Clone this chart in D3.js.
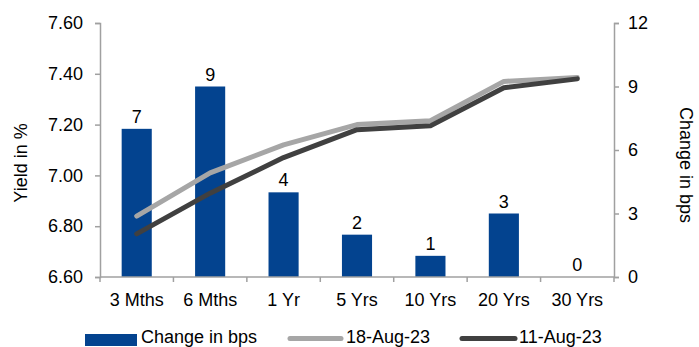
<!DOCTYPE html>
<html>
<head>
<meta charset="utf-8">
<script src="https://cdn.jsdelivr.net/npm/d3@7"></script>
<style>
  html, body { margin: 0; padding: 0; background: #fff; }
  svg text { font-family: "Liberation Sans", Arial, sans-serif; fill: #000; }
</style>
</head>
<body>
<svg id="chart" width="699" height="347"></svg>
<script>
// Tenors along the curve
const tenors = ["3 Mths", "6 Mths", "1 Yr", "5 Yrs", "10 Yrs", "20 Yrs", "30 Yrs"];
// Weekly change in basis points (bars, right axis)
const changeBps = [7, 9, 4, 2, 1, 3, 0];
// Yields in % (lines, left axis)
const yield18Aug = [6.84, 7.01, 7.12, 7.20, 7.215, 7.37, 7.385];
const yield11Aug = [6.77, 6.93, 7.07, 7.18, 7.195, 7.345, 7.38];
// Axis ticks
const yieldTicks = [6.60, 6.80, 7.00, 7.20, 7.40, 7.60];
const bpsTicks = [0, 3, 6, 9, 12];

const svg = d3.select("#chart");
const plotL = 100, plotR = 614, plotT = 23, plotB = 277;
const axisColor = "#a0a0a0";
const barColor = "#03438f";
const lightColor = "#a6a6a6";
const darkColor = "#404040";
const fs = 18;

const xSlot = d3.scaleBand().domain(tenors).range([plotL, plotR]);
const yYield = d3.scaleLinear().domain([6.6, 7.6]).range([plotB, plotT]);
const yBps = d3.scaleLinear().domain([0, 12]).range([plotB, plotT]);
const barW = xSlot.bandwidth() * 0.41;
const cx = t => xSlot(t) + xSlot.bandwidth() / 2;

// Left axis (yield)
const gL = svg.append("g").attr("transform", `translate(${plotL},0)`)
  .call(d3.axisLeft(yYield).tickValues(yieldTicks).tickFormat(d3.format(".2f")).tickSize(5).tickPadding(12));
// Right axis (bps)
const gR = svg.append("g").attr("transform", `translate(${plotR},0)`)
  .call(d3.axisRight(yBps).tickValues(bpsTicks).tickFormat(d3.format("d")).tickSize(5).tickPadding(9));
[gL, gR].forEach(g => {
  g.select(".domain").attr("stroke", axisColor).attr("stroke-width", 1.5);
  g.selectAll(".tick line").attr("stroke", axisColor).attr("stroke-width", 1.5);
  g.selectAll(".tick text").attr("font-size", fs).attr("font-family", "Liberation Sans, Arial, sans-serif").attr("fill", "#000");
});

// Bars
svg.append("g").selectAll("rect").data(tenors).join("rect")
  .attr("x", t => cx(t) - barW / 2)
  .attr("width", barW)
  .attr("y", (t, i) => yBps(changeBps[i]))
  .attr("height", (t, i) => plotB - yBps(changeBps[i]))
  .attr("fill", barColor);

// Bar value labels
svg.append("g").selectAll("text").data(tenors).join("text")
  .attr("x", cx)
  .attr("y", (t, i) => yBps(changeBps[i]) - 6)
  .attr("text-anchor", "middle")
  .attr("font-size", fs)
  .text((t, i) => changeBps[i]);

// Bottom axis
const gB = svg.append("g").attr("transform", `translate(0,${plotB})`);
gB.append("line").attr("x1", plotL).attr("x2", plotR).attr("stroke", axisColor).attr("stroke-width", 1.5);
const bounds = tenors.map(t => xSlot(t)).concat([plotR]);
gB.selectAll("line.tk").data(bounds).join("line").attr("class", "tk")
  .attr("x1", d => d).attr("x2", d => d).attr("y1", 0).attr("y2", 5)
  .attr("stroke", axisColor).attr("stroke-width", 1.5);
gB.selectAll("text").data(tenors).join("text")
  .attr("x", cx).attr("y", 29)
  .attr("text-anchor", "middle").attr("font-size", fs)
  .text(d => d);

// Yield lines
const line = vals => d3.line().x(t => cx(t)).y((t, i) => yYield(vals[i]))(tenors);
svg.append("path").attr("d", line(yield18Aug)).attr("fill", "none")
  .attr("stroke", lightColor).attr("stroke-width", 5).attr("stroke-linejoin", "round").attr("stroke-linecap", "round");
svg.append("path").attr("d", line(yield11Aug)).attr("fill", "none")
  .attr("stroke", darkColor).attr("stroke-width", 5).attr("stroke-linejoin", "round").attr("stroke-linecap", "round");

// Axis titles
svg.append("text").attr("transform", "translate(27,163) rotate(-90)")
  .attr("text-anchor", "middle").attr("font-size", fs).text("Yield in %");
svg.append("text").attr("transform", "translate(680,165) rotate(90)")
  .attr("text-anchor", "middle").attr("font-size", fs).text("Change in bps");

// Legend
const lg = svg.append("g");
lg.append("rect").attr("x", 85).attr("y", 334).attr("width", 52).attr("height", 12).attr("fill", barColor);
lg.append("text").attr("x", 141).attr("y", 342.5).attr("font-size", fs).text("Change in bps");
lg.append("line").attr("x1", 290).attr("x2", 341).attr("y1", 338.5).attr("y2", 338.5)
  .attr("stroke", lightColor).attr("stroke-width", 5).attr("stroke-linecap", "round");
lg.append("text").attr("x", 346).attr("y", 342.5).attr("font-size", fs).text("18-Aug-23");
lg.append("line").attr("x1", 462).attr("x2", 515).attr("y1", 338.5).attr("y2", 338.5)
  .attr("stroke", darkColor).attr("stroke-width", 5).attr("stroke-linecap", "round");
lg.append("text").attr("x", 519).attr("y", 342.5).attr("font-size", fs).text("11-Aug-23");
</script>
</body>
</html>
